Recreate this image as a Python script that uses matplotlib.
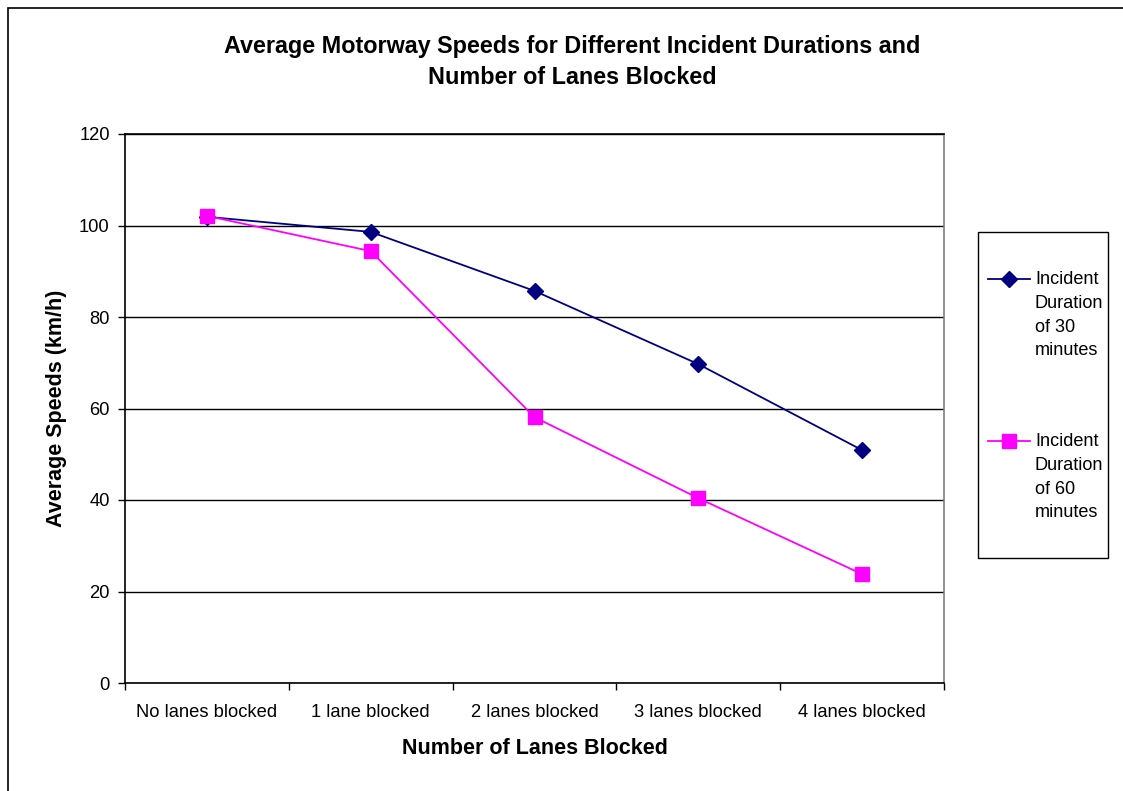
import numpy as np
import matplotlib
matplotlib.use("Agg")
import matplotlib.pyplot as plt
from matplotlib.lines import Line2D
from matplotlib.patches import Rectangle

plt.rcParams["font.family"] = ["Liberation Sans", "DejaVu Sans"]

# ── data ──────────────────────────────────────────────
categories = ["No lanes blocked", "1 lane blocked", "2 lanes blocked",
              "3 lanes blocked", "4 lanes blocked"]
speed_30min = [101.9, 98.6, 85.7, 69.7, 50.9]
speed_60min = [102.1, 94.4, 58.1, 40.4, 23.8]
series_labels = ["Incident\nDuration\nof 30\nminutes", "Incident\nDuration\nof 60\nminutes"]
y_ticks = [0, 20, 40, 60, 80, 100, 120]

NAVY = "#000080"
MAGENTA = "#FF00FF"

fig = plt.figure(figsize=(11.23, 7.91), dpi=100)
fig.patch.set_facecolor("white")

# outer chart border
fig.add_artist(Rectangle((8 / 1123, -0.05), 1.2, 1 - 8 / 791 + 0.05,
                         transform=fig.transFigure, fill=False,
                         edgecolor="black", linewidth=1.2))

ax = fig.add_axes([125 / 1123, 1 - 683 / 791, (944 - 125) / 1123, (683 - 134) / 791])
x = np.arange(len(categories))

ax.plot(x, speed_30min, color=NAVY, linewidth=1.3, marker="D", markersize=8,
        markerfacecolor=NAVY, markeredgecolor=NAVY, zorder=3)
ax.plot(x, speed_60min, color=MAGENTA, linewidth=1.3, marker="s", markersize=10,
        markerfacecolor=MAGENTA, markeredgecolor=MAGENTA, zorder=4)

ax.set_xlim(-0.5, len(categories) - 0.5)
ax.set_ylim(0, 120)
ax.set_yticks(y_ticks)
ax.set_xticks(x)
ax.set_xticklabels(categories, fontsize=13.2)
ax.set_xticks(np.arange(-0.5, len(categories), 1.0), minor=True)
ax.tick_params(axis="x", which="major", length=0, pad=15)
ax.tick_params(axis="x", which="minor", length=5, width=1, direction="out")
ax.tick_params(axis="y", length=5, width=1, direction="out", labelsize=13.2, pad=6)

ax.yaxis.grid(True, color="black", linewidth=1)
ax.set_axisbelow(True)
for side in ["left", "bottom", "top"]:
    ax.spines[side].set_color("black")
    ax.spines[side].set_linewidth(1.2)
ax.spines["right"].set_color("#808080")
ax.spines["right"].set_linewidth(1.2)

ax.set_xlabel("Number of Lanes Blocked", fontsize=15.5, fontweight="bold", labelpad=12)
ax.set_ylabel("Average Speeds (km/h)", fontsize=15.5, fontweight="bold", labelpad=9)

fig.text(572 / 1123, 1 - 62 / 791,
         "Average Motorway Speeds for Different Incident Durations and\nNumber of Lanes Blocked",
         ha="center", va="center", fontsize=16.8, fontweight="bold", linespacing=1.42)

# legend box drawn by hand so handles sit next to the first text line
fig.add_artist(Rectangle((978 / 1123, 1 - 558 / 791), 130 / 1123, 326 / 791,
                         transform=fig.transFigure, fill=False,
                         edgecolor="black", linewidth=1))
legend_rows = [(279, NAVY, "D", 8), (441, MAGENTA, "s", 10)]
for (yp, col, mk, ms), lab in zip(legend_rows, series_labels):
    yf = 1 - yp / 791
    fig.add_artist(Line2D([988 / 1123, 1030 / 1123], [yf, yf], color=col,
                          linewidth=1.3, transform=fig.transFigure))
    fig.add_artist(Line2D([1009 / 1123], [yf], color=col, marker=mk, markersize=ms,
                          transform=fig.transFigure))
    fig.text(1035 / 1123, yf + 8 / 791, lab, ha="left", va="top",
             fontsize=13.1, linespacing=1.52)

fig.savefig("out.png", dpi=100, facecolor="white")
